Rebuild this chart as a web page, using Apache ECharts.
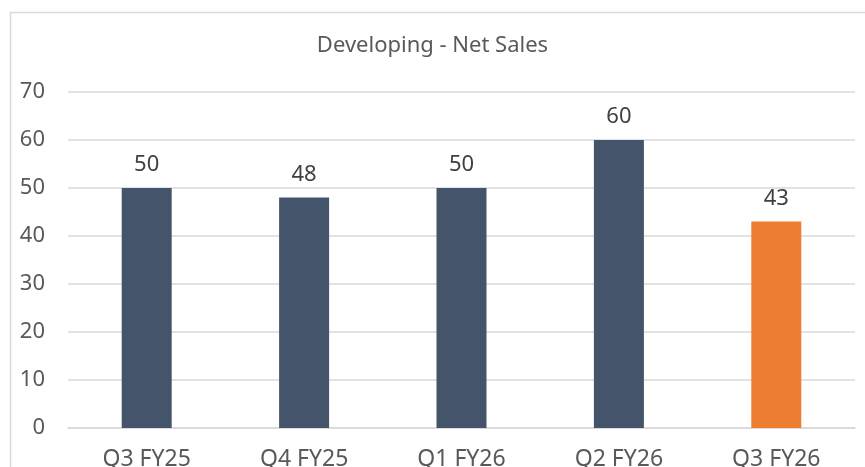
<!DOCTYPE html>
<html>
<head>
<meta charset="utf-8">
<script src="https://cdn.jsdelivr.net/npm/echarts@6/dist/echarts.min.js"></script>
<style>
  html, body { margin: 0; padding: 0; background: #fff; }
  #chart { width: 865px; height: 467px; }
</style>
</head>
<body>
<div id="chart"></div>
<script>
const categories = ["Q3 FY25", "Q4 FY25", "Q1 FY26", "Q2 FY26", "Q3 FY26"];
const netSales = [50, 48, 50, 60, 43];
const highlightIndex = 4;
const yTicks = [0, 70, 10]; // min, max, interval

const font = "'Noto Sans', sans-serif";
const chart = echarts.init(document.getElementById("chart"));

chart.setOption({
    animation: false,
    textStyle: { fontFamily: font },
    title: {
        text: "Developing - Net Sales",
        left: "center",
        top: 30,
        textStyle: { fontFamily: font, fontSize: 22, fontWeight: "normal", color: "#595959" },
    },
    // keep the plot area fixed even though the category labels run off the bottom
    grid: { left: 68, right: 10, top: 92, bottom: 39, containLabel: false, outerBoundsMode: "none" },
    xAxis: {
        type: "category",
        data: categories,
        axisLine: { show: true, lineStyle: { color: "#d9d9d9", width: 1.5 } },
        axisTick: { show: false },
        axisLabel: { color: "#595959", fontSize: 23, margin: 20, fontFamily: font },
    },
    yAxis: {
        type: "value",
        min: yTicks[0],
        max: yTicks[1],
        interval: yTicks[2],
        axisLine: { show: false },
        axisTick: { show: false },
        axisLabel: { color: "#595959", fontSize: 22, margin: 23, fontFamily: font },
        splitLine: { lineStyle: { color: "#d9d9d9", width: 1.5 } },
    },
    series: [
        {
            type: "bar",
            barWidth: 50,
            data: netSales.map((v, i) => ({
                value: v,
                itemStyle: { color: i === highlightIndex ? "#ED7D31" : "#44546A" },
            })),
            label: {
                show: true,
                position: "top",
                distance: 12,
                color: "#404040",
                fontSize: 22,
                fontFamily: font,
            },
        },
    ],
    graphic: [
        {
            type: "rect",
            left: 8,
            top: 10,
            shape: { width: 900, height: 500 },
            style: { fill: "none", stroke: "#d9d9d9", lineWidth: 1.5 },
            silent: true,
            z: -1,
        },
    ],
});
</script>
</body>
</html>
